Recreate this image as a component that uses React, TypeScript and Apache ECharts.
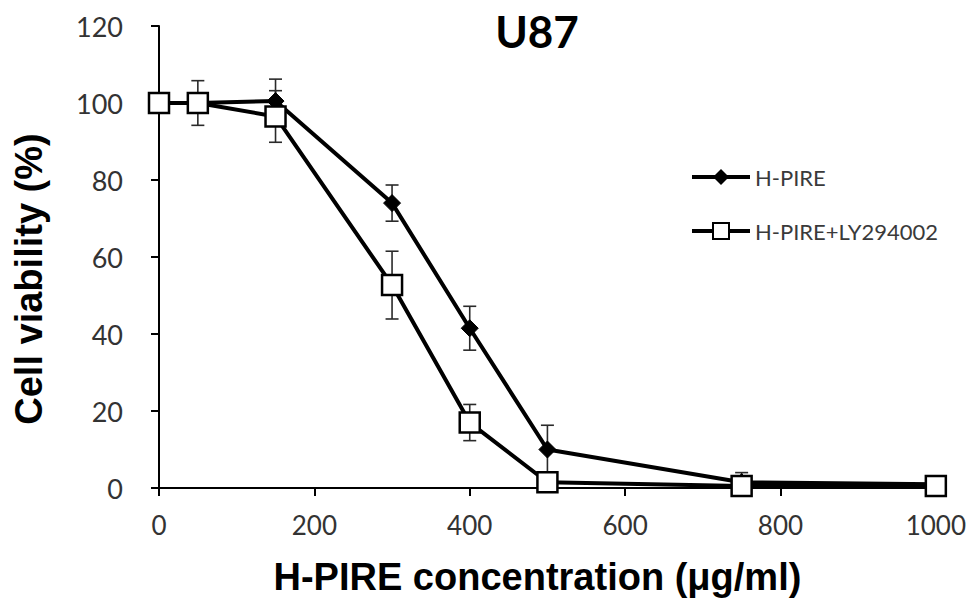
import React, { useEffect, useRef } from "react";
import * as echarts from "echarts";

const concentrations = [0, 50, 150, 300, 400, 500, 750, 1000];
const hpire = [100, 100, 100.5, 74, 41.5, 10, 1.5, 1];
const hpireErr = [0, 0, 5.7, 4.7, 5.7, 6.3, 2.5, 1.5];
const hpireLy = [100, 100, 96.5, 52.7, 17, 1.5, 0.5, 0.5];
const hpireLyErr = [0, 5.8, 6.7, 8.8, 4.7, 1, 0.5, 0.5];
const yTicks = [0, 20, 40, 60, 80, 100, 120];
const xTicks = [0, 200, 400, 600, 800, 1000];

const LABEL_FONT = "Lato, 'Open Sans', sans-serif";
const NAME_FONT = "'Liberation Sans', Arial, sans-serif";

function errData(vals: number[], errs: number[]) {
  return concentrations.map((c, i) => [c, vals[i] - errs[i], vals[i] + errs[i]]);
}

function errSeries(vals: number[], errs: number[]) {
  return {
    type: "custom",
    z: 1,
    silent: true,
    encode: { x: 0, y: [1, 2] },
    data: errData(vals, errs),
    renderItem: (params: any, api: any) => {
      const x = api.value(0);
      const lo = api.coord([x, api.value(1)]);
      const hi = api.coord([x, api.value(2)]);
      const w = 6.5;
      const style = { stroke: "#2a2a2a", lineWidth: 1.6 };
      return {
        type: "group",
        children: [
          { type: "line", shape: { x1: lo[0], y1: lo[1], x2: hi[0], y2: hi[1] }, style },
          { type: "line", shape: { x1: hi[0] - w, y1: hi[1], x2: hi[0] + w, y2: hi[1] }, style },
          { type: "line", shape: { x1: lo[0] - w, y1: lo[1], x2: lo[0] + w, y2: lo[1] }, style },
        ],
      };
    },
  };
}

export default function App() {
  const ref = useRef<HTMLDivElement>(null);
  useEffect(() => {
    if (!ref.current) return;
    const chart = echarts.init(ref.current, null, { renderer: "svg" });
    chart.setOption({
      animation: false,
      backgroundColor: "#fff",
      title: {
        text: "U87",
        left: 532,
        top: 4,
        textAlign: "center",
        textStyle: { fontFamily: LABEL_FONT, fontSize: 44, fontWeight: "bold", color: "#000" },
      },
      graphic: [
        {
          type: "text",
          x: 29,
          y: 279,
          rotation: Math.PI / 2,
          style: {
            text: "Cell viability (%)",
            textAlign: "center",
            textVerticalAlign: "middle",
            fontFamily: NAME_FONT,
            fontSize: 38,
            fontWeight: "bold",
            fill: "#000",
          },
        },
      ],
      legend: {
        orient: "vertical",
        left: 690,
        top: 166,
        padding: 0,
        itemWidth: 58,
        itemHeight: 20,
        itemGap: 32,
        lineStyle: { width: 4 },
        textStyle: { fontFamily: LABEL_FONT, fontSize: 22, color: "#3a3a3a", lineHeight: 20 },
        data: ["H-PIRE", "H-PIRE+LY294002"],
      },
      grid: { left: 159, right: 33, top: 26, bottom: 123, containLabel: false },
      xAxis: {
        type: "value",
        min: 0,
        max: 1000,
        interval: 200,
        name: "H-PIRE concentration (μg/ml)",
        nameLocation: "middle",
        nameGap: 70,
        nameTextStyle: {
          fontFamily: NAME_FONT,
          fontSize: 38,
          fontWeight: "bold",
          color: "#000",
          padding: [0, 20, 0, 0],
        },
        axisLine: { lineStyle: { color: "#000", width: 2 } },
        axisTick: { show: true, inside: false, length: 8, lineStyle: { color: "#000", width: 2 } },
        axisLabel: {
          fontFamily: LABEL_FONT,
          fontSize: 26,
          color: "#333",
          margin: 24,
          formatter: (v: number) => (xTicks.includes(v) ? String(v) : ""),
        },
        splitLine: { show: false },
      },
      yAxis: {
        type: "value",
        min: 0,
        max: 120,
        interval: 20,
        axisLine: { show: true, lineStyle: { color: "#000", width: 2 } },
        axisTick: { show: true, inside: false, length: 8, lineStyle: { color: "#000", width: 2 } },
        axisLabel: {
          fontFamily: LABEL_FONT,
          fontSize: 27,
          color: "#333",
          margin: 36,
          formatter: (v: number) => (yTicks.includes(v) ? String(v) : ""),
        },
        splitLine: { show: false },
      },
      series: [
        errSeries(hpire, hpireErr),
        errSeries(hpireLy, hpireLyErr),
        {
          name: "H-PIRE",
          type: "line",
          z: 3,
          data: concentrations.map((c, i) => [c, hpire[i]]),
          symbol: "diamond",
          symbolSize: 17,
          lineStyle: { color: "#000", width: 4 },
          itemStyle: { color: "#000", borderColor: "#000" },
        },
        {
          name: "H-PIRE+LY294002",
          type: "line",
          z: 4,
          data: concentrations.map((c, i) => [c, hpireLy[i]]),
          symbol: "rect",
          symbolSize: 20,
          lineStyle: { color: "#000", width: 4 },
          itemStyle: { color: "#fff", borderColor: "#000", borderWidth: 2.5 },
        },
      ],
    });
    return () => chart.dispose();
  }, []);
  return <div ref={ref} style={{ width: 969, height: 611, position: "absolute", left: 0, top: 0 }} />;
}
